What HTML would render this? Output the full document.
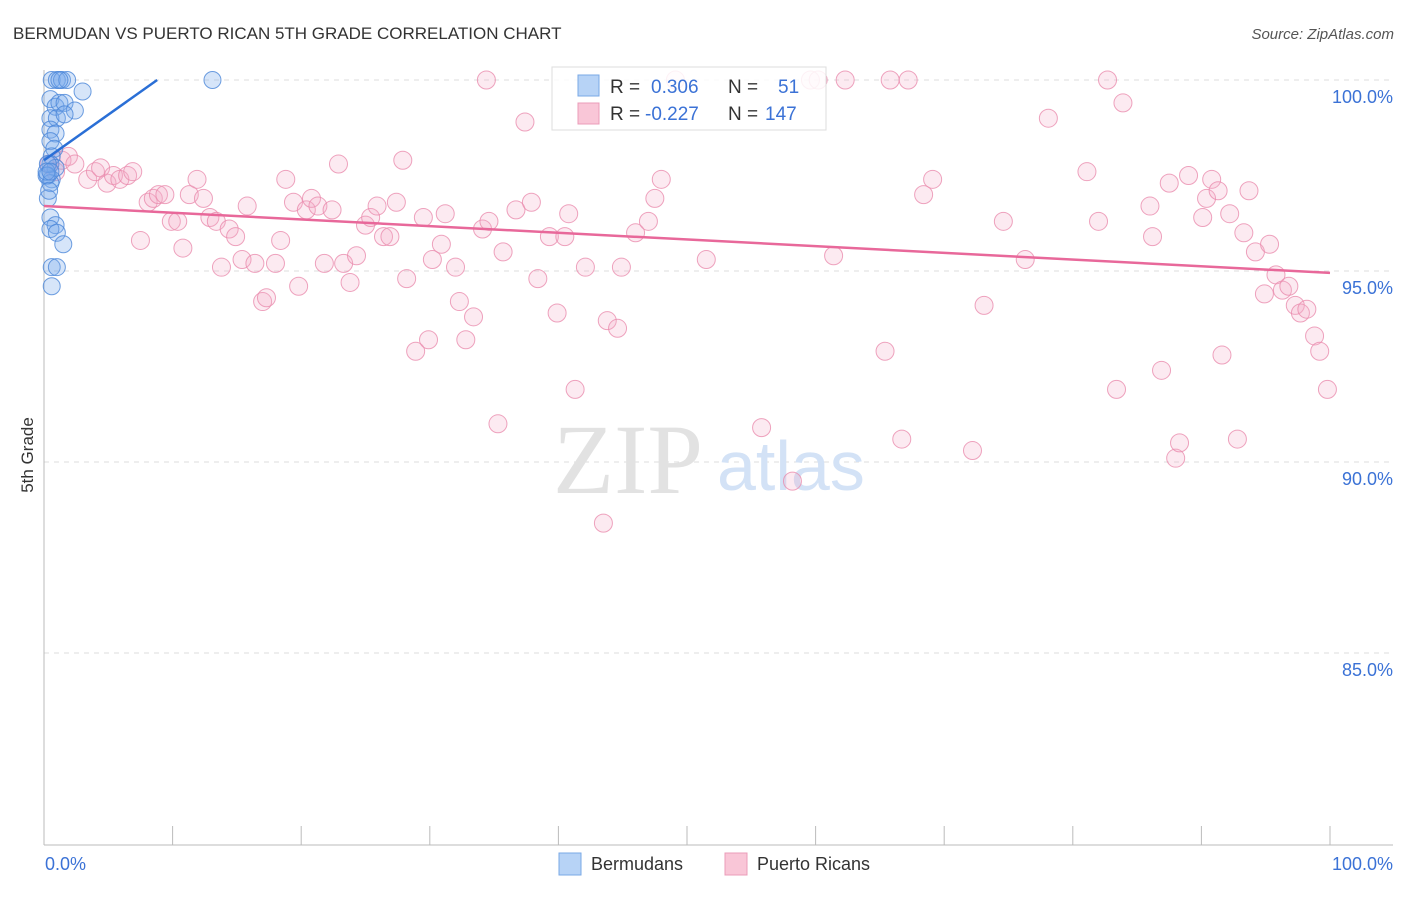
<!DOCTYPE html>
<html><head><meta charset="utf-8"><style>
body{margin:0;background:#fff;font-family:"Liberation Sans",sans-serif;}
svg text{font-family:"Liberation Sans",sans-serif;}
</style></head><body>
<svg id="chart" width="1406" height="892" viewBox="0 0 1406 892" xmlns="http://www.w3.org/2000/svg">
<text x="13" y="39" font-size="17" fill="#333">BERMUDAN VS PUERTO RICAN 5TH GRADE CORRELATION CHART</text>
<text x="1394" y="39" font-size="15" fill="#555" font-style="italic" text-anchor="end">Source: ZipAtlas.com</text>
<g id="grid"></g>
<text x="553" y="493" font-size="100" fill="#e2e2e2" font-family="Liberation Serif" style="font-family:'Liberation Serif',serif">ZIP</text>
<text x="717" y="490" font-size="70" fill="#d3e2f6">atlas</text>
<g id="axes"></g>
<g id="pts"></g>
<g id="trends"></g>
<text transform="translate(33,455) rotate(-90)" font-size="17" fill="#333" text-anchor="middle">5th Grade</text>
<g>
<rect x="552" y="67" width="274" height="63" fill="#fff" fill-opacity="0.85" stroke="#ddd"/>
<rect x="578" y="75" width="21" height="21" fill="#b7d3f6" stroke="#7aa8e6"/>
<rect x="578" y="103" width="21" height="21" fill="#f9c6d7" stroke="#eb9cb8"/>
<text x="610" y="93" font-size="19" fill="#333">R = </text><text x="651" y="93" font-size="19" fill="#3b72d6">0.306</text>
<text x="728" y="93" font-size="19" fill="#333">N = </text><text x="778" y="93" font-size="19" fill="#3b72d6">51</text>
<text x="610" y="120" font-size="19" fill="#333">R = </text><text x="645" y="120" font-size="19" fill="#3b72d6">-0.227</text>
<text x="728" y="120" font-size="19" fill="#333">N = </text><text x="765" y="120" font-size="19" fill="#3b72d6">147</text>
</g>
<g>
<rect x="559" y="853" width="22" height="22" fill="#b7d3f6" stroke="#7aa8e6"/>
<text x="591" y="870" font-size="18" fill="#333">Bermudans</text>
<rect x="725" y="853" width="22" height="22" fill="#f9c6d7" stroke="#eb9cb8"/>
<text x="757" y="870" font-size="18" fill="#333">Puerto Ricans</text>
</g>
</svg>
<script>
const yTicks=[100,95,90,85];
const yTickLabels=["100.0%","95.0%","90.0%","85.0%"];
const xTickVals=[0,10,20,30,40,50,60,70,80,90,100];
const xEndLabels=["0.0%","100.0%"];
const pinkX=[34.4,37.4,49.1,59.6,60.2,62.3,65.8,67.2,82.7,83.9,78.1,0.4,0.9,1.4,1.9,2.4,3.4,4.0,4.4,4.9,5.4,5.9,6.5,6.9,7.5,8.1,8.5,8.9,9.4,9.9,10.4,10.8,11.3,11.9,12.4,12.9,13.4,13.8,14.4,14.9,15.4,15.8,16.4,17.0,17.3,18.0,18.4,18.8,19.4,19.8,20.4,20.8,21.3,21.8,22.4,22.9,23.3,23.8,24.3,25.0,25.4,25.9,26.4,26.9,27.4,27.9,28.2,28.9,29.5,29.9,30.2,30.9,31.2,32.0,32.3,32.8,33.4,34.1,34.6,35.3,35.7,36.7,37.9,38.4,39.3,39.9,40.5,40.8,41.3,42.1,43.5,43.8,44.6,44.9,46.0,47.0,47.5,48.0,51.5,55.8,58.2,61.4,65.4,66.7,68.4,69.1,72.2,73.1,74.6,76.3,81.1,82.0,83.4,86.0,86.2,86.9,87.5,88.0,88.3,89.0,90.1,90.4,90.8,91.3,91.6,92.2,92.8,93.3,93.7,94.2,95.3,95.8,94.9,96.3,96.8,97.3,97.7,98.2,98.8,99.2,99.8];
const pinkY=[100,98.9,100,100,100,100,100,100,100,99.4,99.0,97.8,97.6,97.9,98.0,97.8,97.4,97.6,97.7,97.3,97.5,97.4,97.5,97.6,95.8,96.8,96.9,97.0,97.0,96.3,96.3,95.6,97.0,97.4,96.9,96.4,96.3,95.1,96.1,95.9,95.3,96.7,95.2,94.2,94.3,95.2,95.8,97.4,96.8,94.6,96.6,96.9,96.7,95.2,96.6,97.8,95.2,94.7,95.4,96.2,96.4,96.7,95.9,95.9,96.8,97.9,94.8,92.9,96.4,93.2,95.3,95.7,96.5,95.1,94.2,93.2,93.8,96.1,96.3,91.0,95.5,96.6,96.8,94.8,95.9,93.9,95.9,96.5,91.9,95.1,88.4,93.7,93.5,95.1,96.0,96.3,96.9,97.4,95.3,90.9,89.5,95.4,92.9,90.6,97.0,97.4,90.3,94.1,96.3,95.3,97.6,96.3,91.9,96.7,95.9,92.4,97.3,90.1,90.5,97.5,96.4,96.9,97.4,97.1,92.8,96.5,90.6,96.0,97.1,95.5,95.7,94.9,94.4,94.5,94.6,94.1,93.9,94.0,93.3,92.9,91.9];
const blueX=[0.6,1.0,1.4,1.8,1.2,13.1,3.0,0.5,0.9,1.2,1.6,2.4,0.5,1.0,1.6,0.5,0.9,0.5,0.8,0.6,0.5,0.9,0.3,0.6,0.5,0.3,0.5,0.9,0.5,1.0,1.5,0.6,1.0,0.6,0.3,0.2,0.4,0.2,0.5];
const blueY=[100,100,100,100,100,100,99.7,99.5,99.3,99.4,99.4,99.2,99.0,99.0,99.1,98.7,98.6,98.4,98.2,98.0,97.8,97.7,97.5,97.4,97.3,96.9,96.4,96.2,96.1,96.0,95.7,95.1,95.1,94.6,97.8,97.5,97.1,97.6,97.6];
const blueTrend=[0,97.9,8.8,100];
const pinkTrend=[0,96.7,100,94.95];
const NS="http://www.w3.org/2000/svg";
const xs=v=>44+v*12.86;
const ys=v=>80+(100-v)*38.2;
function mk(tag,attrs,parent){const e=document.createElementNS(NS,tag);for(const k in attrs)e.setAttribute(k,attrs[k]);parent.appendChild(e);return e;}
const grid=document.getElementById('grid'),axes=document.getElementById('axes'),pts=document.getElementById('pts'),tr=document.getElementById('trends');
yTicks.forEach((t,i)=>{
  const l=mk('line',{x1:44,x2:1393,y1:ys(t),y2:ys(t),stroke:'#ddd','stroke-dasharray':'5,5'},grid);
  
  
  const tx=mk('text',{x:1393,y:ys(t)+23,'font-size':18,fill:'#3b72d6','text-anchor':'end'},axes);
  tx.textContent=yTickLabels[i];
  
  
});
const xl=mk('line',{x1:44,x2:1393,y1:845,y2:845,stroke:'#bbb'},axes);


const yl=mk('line',{x1:44,x2:44,y1:70,y2:845,stroke:'#bbb'},axes);


xTickVals.forEach(v=>{
  const t=mk('line',{x1:xs(v),x2:xs(v),y1:826,y2:845,stroke:'#bbb'},axes);
  
  
});
const l0=mk('text',{x:45,y:870,'font-size':18,fill:'#3b72d6'},axes);l0.textContent=xEndLabels[0];


const l1=mk('text',{x:1393,y:870,'font-size':18,fill:'#3b72d6','text-anchor':'end'},axes);l1.textContent=xEndLabels[1];


pinkX.forEach((x,i)=>{
  const c=mk('circle',{cx:xs(x),cy:ys(pinkY[i]),r:9,fill:'rgba(245,170,198,0.25)',stroke:'rgba(234,140,174,0.8)','stroke-width':1},pts);
  
  
});
blueX.forEach((x,i)=>{
  const c=mk('circle',{cx:xs(x),cy:ys(blueY[i]),r:8.5,fill:'rgba(120,170,235,0.3)',stroke:'rgba(74,134,216,0.8)','stroke-width':1},pts);
  
  
});
const bt=mk('line',{x1:xs(blueTrend[0]),y1:ys(blueTrend[1]),x2:xs(blueTrend[2]),y2:ys(blueTrend[3]),stroke:'#2a6fd6','stroke-width':2.5},tr);


const pt=mk('line',{x1:xs(pinkTrend[0]),y1:ys(pinkTrend[1]),x2:xs(pinkTrend[2]),y2:ys(pinkTrend[3]),stroke:'#e8689a','stroke-width':2.5},tr);


</script>
</body></html>
